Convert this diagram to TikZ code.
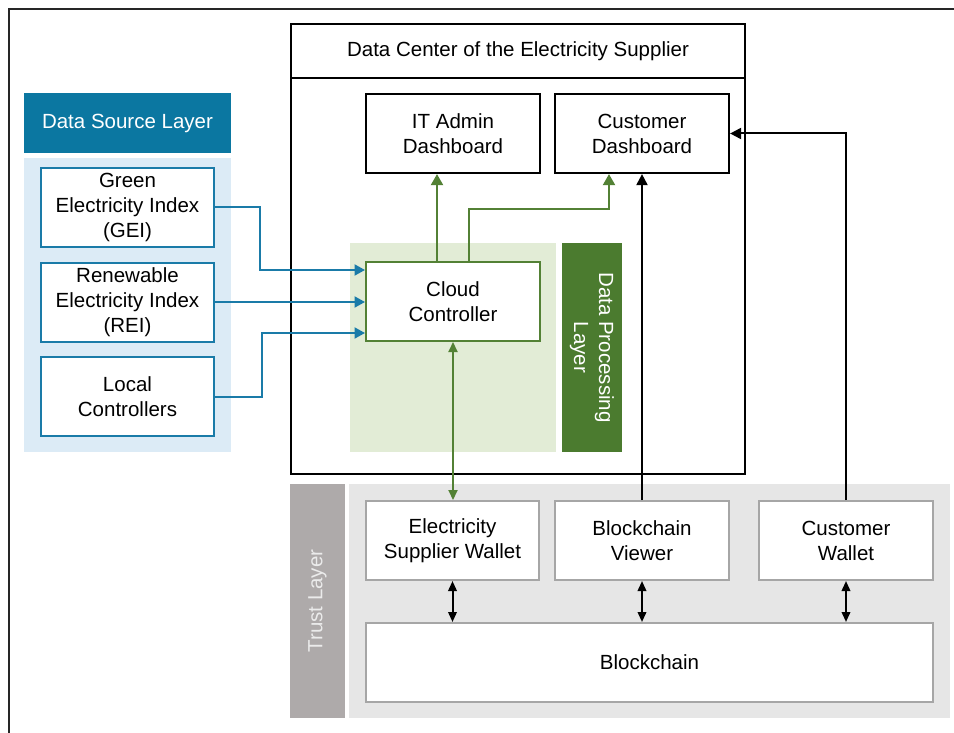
\documentclass[tikz,border=0pt]{standalone}
\usepackage{fontspec}
\setmainfont{Liberation Sans}
\usetikzlibrary{arrows.meta,calc}
\definecolor{teal}{HTML}{0B77A1}
\definecolor{bline}{HTML}{1A7BA8}
\definecolor{lblue}{HTML}{DCEBF6}
\definecolor{lgreen}{HTML}{E2ECD6}
\definecolor{dgreen}{HTML}{4B7B2F}
\definecolor{gline}{HTML}{538135}
\definecolor{tgray}{HTML}{AEAAAA}
\definecolor{lgray}{HTML}{E6E6E6}
\definecolor{bgray}{HTML}{A6A6A6}
\begin{document}
\begin{tikzpicture}[x=1pt,y=-1pt,
  every node/.style={font=\fontsize{20.5}{25}\selectfont, align=center, inner sep=0pt},
  kbox/.style={draw=black, line width=2.2pt, fill=white, minimum width=174pt, minimum height=79pt},
  bbox/.style={draw=bline, line width=2pt, fill=white, minimum width=173pt, minimum height=79pt},
  gbox/.style={draw=gline, line width=2pt, fill=white, minimum width=174pt, minimum height=79pt},
  tbox/.style={draw=bgray, line width=2pt, fill=white, minimum width=174pt, minimum height=79pt},
  barrow/.style={draw=bline, line width=2pt, -{Triangle[length=10.5pt,width=11pt]}},
  garrow/.style={draw=gline, line width=2pt, -{Triangle[length=11pt,width=12pt]}},
  gdarrow/.style={draw=gline, line width=2pt, {Triangle[length=10pt,width=9pt]}-{Triangle[length=10pt,width=9pt]}},
  karrow/.style={draw=black, line width=2pt, -{Triangle[length=11pt,width=11pt]}},
  kdarrow/.style={draw=black, line width=2pt, {Triangle[length=10pt,width=8.5pt]}-{Triangle[length=10pt,width=8.5pt]}},
]
\useasboundingbox (0,0) rectangle (954,733);
\fill[white] (0,0) rectangle (954,733);
% outer frame (partly visible)
\draw[line width=2pt, black!85] (9,740) -- (9,9) -- (960,9);

% Data source layer
\node[fill=teal, text=white, minimum width=207pt, minimum height=60pt] (dsl) at (127.5,123) {Data Source Layer};
\fill[lblue] (24,158) rectangle (231,452);
\node[bbox] (gei) at (127.5,207.5) {Green\\Electricity Index\\(GEI)};
\node[bbox] (rei) at (127.5,302) {Renewable\\Electricity Index\\(REI)};
\node[bbox] (local) at (127.5,396.5) {Local\\Controllers};

% Data center
\draw[line width=2.2pt] (291,24) rectangle (745,474);
\draw[line width=2.2pt] (291,78) -- (745,78);
\node (dctitle) at (518,51) {Data Center of the Electricity Supplier};
\fill[lgreen] (350,243) rectangle (556,452);
\fill[dgreen] (562,243) rectangle (622,452);
\node[rotate=-90, text=white] (dpl) at (592,347.5) {Data Processing\\Layer};
\node[kbox] (itadmin) at (453,133.5) {IT Admin\\Dashboard};
\node[kbox] (custdash) at (642,133.5) {Customer\\Dashboard};
\node[gbox] (cloud) at (453,301.5) {Cloud\\Controller};

% Trust layer
\fill[tgray] (290,484) rectangle (345,718);
\node[rotate=90, text=white!92!black] (tl) at (317.5,601) {Trust Layer};
\fill[lgray] (349,484) rectangle (950,718);
\node[tbox, minimum width=173pt] (eswallet) at (452.5,540.5) {Electricity\\Supplier Wallet};
\node[tbox] (bcviewer) at (642,540.5) {Blockchain\\Viewer};
\node[tbox] (custwallet) at (846,540.5) {Customer\\Wallet};
\node[tbox, minimum width=567pt] (blockchain) at (649.5,662.5) {Blockchain};

% blue connectors
\coordinate (b1) at (260,270);
\coordinate (b3) at (262,333);
\draw[barrow] (gei.east) -| (b1) -- (b1 -| cloud.west);
\draw[barrow] (rei.east) -- (rei.east -| cloud.west);
\draw[barrow] (local.east) -| (b3) -- (b3 -| cloud.west);

% green connectors
\coordinate (g1) at (609,209);
\draw[garrow] ([xshift=-16pt]cloud.north) -- ([xshift=-16pt]itadmin.south);
\draw[garrow] ([xshift=16pt]cloud.north) |- (g1) -- (g1 |- custdash.south);
\draw[gdarrow] (cloud.south) -- (cloud.south |- eswallet.north);

% black connectors
\draw[karrow] (bcviewer.north) -- (custdash.south);
\draw[karrow] (custwallet.north) |- (custdash.east);
\draw[kdarrow] (eswallet.south) -- (eswallet.south |- blockchain.north);
\draw[kdarrow] (bcviewer.south) -- (bcviewer.south |- blockchain.north);
\draw[kdarrow] (custwallet.south) -- (custwallet.south |- blockchain.north);
\end{tikzpicture}
\end{document}
